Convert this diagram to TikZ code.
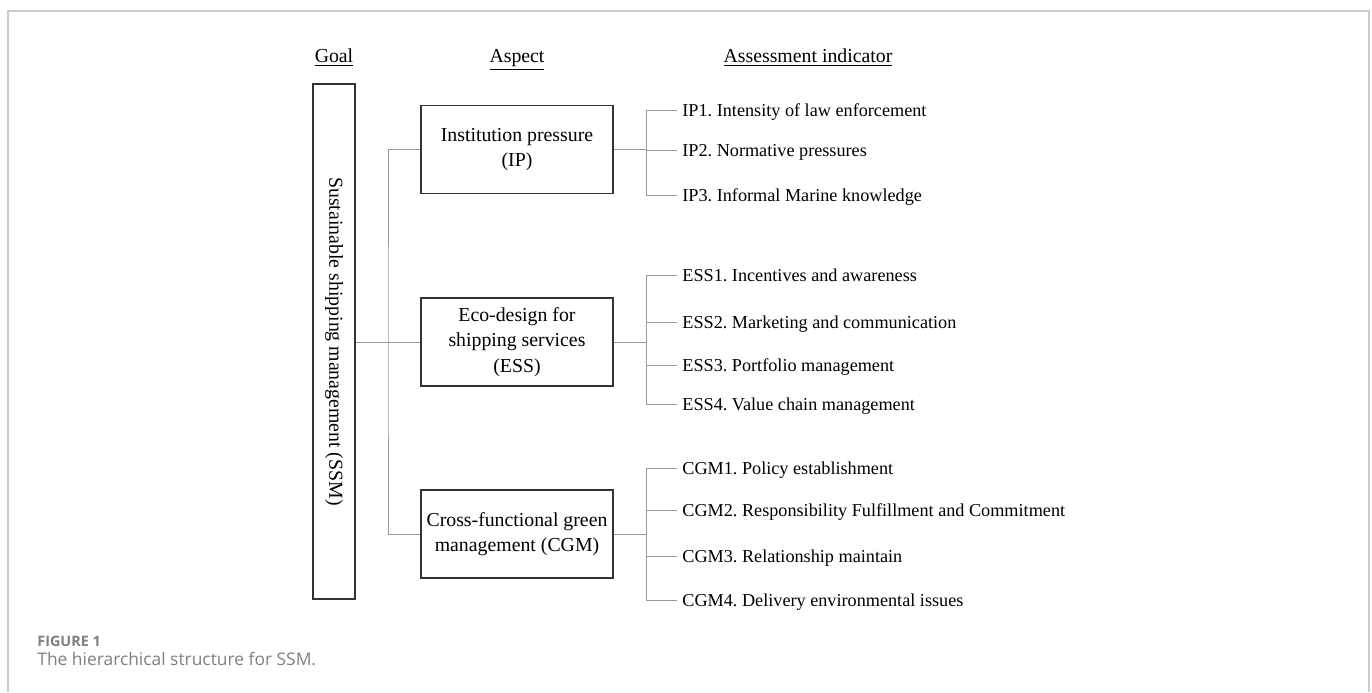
\documentclass[tikz,border=0pt]{standalone}
\usepackage{fontspec}
\setmainfont{Liberation Serif}
\newfontfamily\capfont{Open Sans}
\usetikzlibrary{positioning}
\definecolor{boxline}{HTML}{333333}
\definecolor{linkline}{HTML}{9A9A9A}
\definecolor{framegray}{HTML}{CCCCCC}
\definecolor{capgray}{HTML}{7F7F7F}
\frenchspacing

\begin{document}
\begin{tikzpicture}[x=0.5pt,y=-0.5pt]

    \tikzset{
      goalbox/.style={
        draw=boxline,
        line width=0.8pt,
        minimum width=21pt,
        minimum height=257.5pt,
        inner sep=0pt,
      },
      aspectbox/.style={
        draw=boxline,
        line width=0.8pt,
        minimum width=96pt,
        minimum height=44pt,
        inner sep=0pt,
        align=center,
        font=\fontsize{9.9pt}{12.6pt}\selectfont,
      },
      indicator/.style={
        anchor=west,
        inner sep=2.5pt,
        text height=6pt,
        text depth=0pt,
        font=\fontsize{9.1pt}{11pt}\selectfont,
      },
      header/.style={
        anchor=base,
        inner sep=0pt,
        font=\fontsize{9.9pt}{12pt}\selectfont,
      },
      link/.style={
        draw=linkline,
        line width=0.5pt,
      },
    }
    \useasboundingbox (0,0) rectangle (1372,692);
    \draw[color={framegray},line width=0.8pt] (8,692)--(8,11)--(1369,11)--(1369,692);

    % column titles
    \node[header] (hgoal) at (334,62) {\underline{Goal}};
    \node[header] (haspect) at (517,62) {\underline{Aspect}};
    \node[header] (hind) at (808,62) {\underline{Assessment indicator}};

    % goal
    \node[goalbox] (goal) at (334,341.5) {};
    \node[rotate=-90,inner sep=0pt,font=\fontsize{9.9pt}{12pt}\selectfont] (goallbl) at (goal.center) {Sustainable shipping management (SSM)};

    % aspects
    \node[aspectbox] (ip) at (517,149.5) {Institution pressure\\(IP)};
    \node[aspectbox] (ess) at (517,342) {Eco-design for\\shipping services\\(ESS)};
    \node[aspectbox] (cgm) at (517,534) {Cross-functional green\\management (CGM)};

    % indicators
    \node[indicator] (ip1) at (677,110) {IP1. Intensity of law enforcement};
    \node[indicator] (ip2) at (677,150.5) {IP2. Normative pressures};
    \node[indicator] (ip3) at (677,195) {IP3. Informal Marine knowledge};
    \node[indicator] (ess1) at (677,275) {ESS1. Incentives and awareness};
    \node[indicator] (ess2) at (677,322.5) {ESS2. Marketing and communication};
    \node[indicator] (ess3) at (677,365.5) {ESS3. Portfolio management};
    \node[indicator] (ess4) at (677,404) {ESS4. Value chain management};
    \node[indicator] (cgm1) at (677,468) {CGM1. Policy establishment};
    \node[indicator] (cgm2) at (677,510) {CGM2. Responsibility Fulfillment and Commitment};
    \node[indicator] (cgm3) at (677,556.5) {CGM3. Relationship maintain};
    \node[indicator] (cgm4) at (677,600.5) {CGM4. Delivery environmental issues};

    % goal to aspects
    \coordinate (spine) at (388,342);
    \draw[link] (goal.east |- ess.west) -- (ess.west);
    \draw[link] (ip.west) -| (spine) |- (cgm.west);

    % aspects to indicators
    \draw[link] (ip.east) -- ++(33,0) coordinate (ipbus);
    \foreach \k in {1,2,3}
      \draw[link] (ipbus) |- (ip\k.west);
    \draw[link] (ess.east) -- ++(33,0) coordinate (essbus);
    \foreach \k in {1,...,4}
      \draw[link] (essbus) |- (ess\k.west);
    \draw[link] (cgm.east) -- ++(33,0) coordinate (cgmbus);
    \foreach \k in {1,...,4}
      \draw[link] (cgmbus) |- (cgm\k.west);

    % caption
    \node[anchor=base west,inner sep=0pt,text=capgray,font=\capfont\bfseries\fontsize{7.2pt}{9pt}\selectfont] (fignum) at (37,646) {FIGURE 1};
    \node[anchor=base west,inner sep=0pt,text=capgray,font=\capfont\fontsize{8.7pt}{10pt}\selectfont] (figcap) at (37,665) {The hierarchical structure for SSM.};

\end{tikzpicture}
\end{document}
